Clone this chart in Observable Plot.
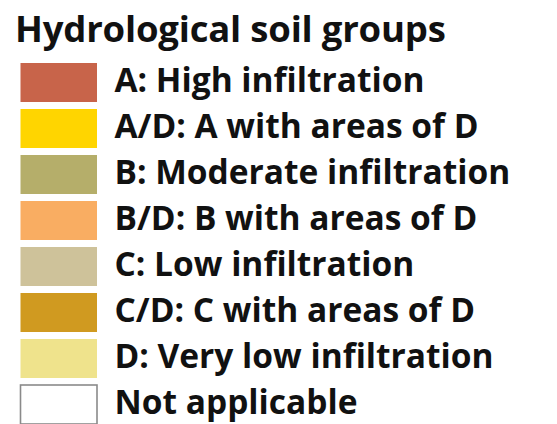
<!DOCTYPE html>
<html>
<head>
<meta charset="utf-8">
<script src="https://cdn.jsdelivr.net/npm/d3@7"></script>
<script src="https://cdn.jsdelivr.net/npm/@observablehq/plot@0.6"></script>
<style>
  html, body { margin: 0; padding: 0; background: #fff; }
  body { width: 557px; height: 424px; overflow: hidden; font-family: "Open Sans", "Lato", sans-serif; }
  #title { font-weight: 700; font-size: 36.5px; color: #111; line-height: 52px; height: 52px; padding-left: 15px; white-space: nowrap; letter-spacing: -0.2px; position: relative; top: 2px; }
  svg { display: block; }
</style>
</head>
<body>
<div id="title">Hydrological soil groups</div>
<div id="chart"></div>
<script>
const title = "Hydrological soil groups";
const labels = [
  "A: High infiltration",
  "A/D: A with areas of D",
  "B: Moderate infiltration",
  "B/D: B with areas of D",
  "C: Low infiltration",
  "C/D: C with areas of D",
  "D: Very low infiltration",
  "Not applicable"
];
const colors = ["#C8644A", "#FFD500", "#B5AE6A", "#F9AD62", "#CEC29A", "#D09A20", "#EFE38C", "#FFFFFF"];
const strokes = [null, null, null, null, null, null, null, "#8a8a8a"];

const rows = labels.map((label, i) => ({label, color: colors[i], stroke: strokes[i], w: 1}));

const chart = Plot.plot({
  width: 557,
  height: 372,
  marginTop: 0,
  marginBottom: 0,
  marginLeft: 20,
  marginRight: 460,
  x: {domain: [0, 1], axis: null},
  y: {domain: labels, axis: null, paddingInner: 0.143, paddingOuter: 0.054, align: 1},
  style: {fontFamily: "'Open Sans', Lato, sans-serif", background: "#fff", overflow: "visible"},
  marks: [
    Plot.barX(rows, {x: "w", y: "label", fill: "color", stroke: d => d.stroke ?? "none", strokeWidth: 1.6, insetLeft: 0.5}),
    Plot.text(rows, {x: "w", y: "label", text: "label", textAnchor: "start", dx: 17, dy: -2, fontSize: 33.5, fontWeight: 700, fill: "#111"})
  ]
});
document.getElementById("chart").appendChild(chart);
</script>
</body>
</html>
